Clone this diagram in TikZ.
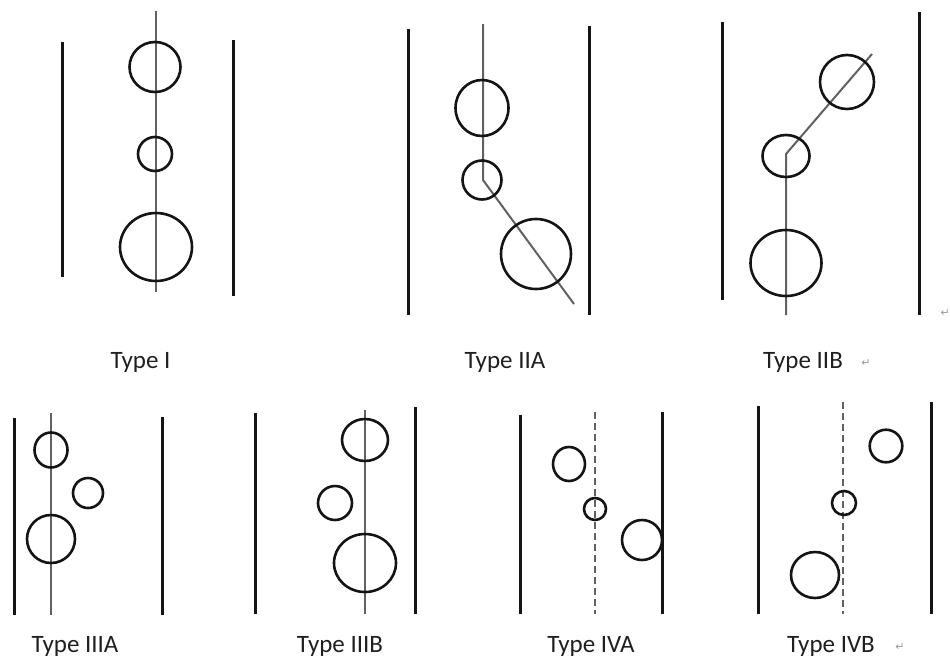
\documentclass[tikz,border=0pt]{standalone}
\usepackage{fontspec}
\setmainfont{Carlito}
\newfontfamily\symfont{DejaVu Sans}
\begin{document}
\begin{tikzpicture}[x=1pt,y=-1pt,
  wall/.style={line width=3pt, black!92},
  axisline/.style={line width=2pt, black!62},
  daxis/.style={line width=2pt, black!62, dash pattern=on 7pt off 4pt},
  pore/.style={line width=2.6pt, black!92},
  lbl/.style={anchor=base, font=\fontsize{25}{30}\selectfont, text=black!88, inner sep=0pt},
  ret/.style={anchor=base, font=\symfont\fontsize{11}{13}\selectfont, text=black!40, inner sep=0pt}]
\useasboundingbox (0,0) rectangle (950,662);

% ---------- Type I ----------
\draw[wall] (62.7,42) -- (62.7,277);
\draw[wall] (233,40) -- (233,296);
\draw[axisline] (155.7,11) -- (155.7,292);
\draw[pore] (155,67) ellipse [x radius=25.5, y radius=25];
\draw[pore] (155,154) circle [radius=17];
\draw[pore] (156,247) ellipse [x radius=36, y radius=34];
\node[lbl] (t1) at (140.5,368) {Type I};

% ---------- Type IIA ----------
\draw[wall] (408,29) -- (408,315);
\draw[wall] (589,26) -- (589,315);
\draw[axisline] (483,24) -- (483,180) -- (574,304);
\draw[pore] (482,108) ellipse [x radius=26.5, y radius=28];
\draw[pore] (482,180) circle [radius=19.5];
\draw[pore] (536,254) circle [radius=35];
\node[lbl] (t2a) at (505,368) {Type IIA};

% ---------- Type IIB ----------
\draw[wall] (722,22) -- (722,300);
\draw[wall] (919,12) -- (919,315);
\draw[axisline] (786,315) -- (786,154) -- (872,54);
\draw[pore] (847,82) circle [radius=27];
\draw[pore] (786,156) ellipse [x radius=23.5, y radius=21];
\draw[pore] (786,263) ellipse [x radius=35.5, y radius=33];
\node[lbl] (t2b) at (803,368) {Type IIB};
\node[ret] (r1) at (866,366) {↵};
\node[ret, anchor=base east] (r2) at (950,316) {↵};

% ---------- Type IIIA ----------
\draw[wall] (14.7,418) -- (14.7,615);
\draw[wall] (162,417) -- (162,615);
\draw[axisline] (51,413) -- (51,615);
\draw[pore] (51,450) ellipse [x radius=16.5, y radius=17.5];
\draw[pore] (88,493) circle [radius=15];
\draw[pore] (51,539) circle [radius=24];
\node[lbl] (t3a) at (75,652) {Type IIIA};

% ---------- Type IIIB ----------
\draw[wall] (255,413) -- (255,614);
\draw[wall] (415,407) -- (415,614);
\draw[axisline] (365,410) -- (365,614);
\draw[pore] (365,440) ellipse [x radius=23, y radius=21];
\draw[pore] (335,503) circle [radius=17];
\draw[pore] (365,563) ellipse [x radius=31, y radius=29];
\node[lbl] (t3b) at (340,652) {Type IIIB};

% ---------- Type IVA ----------
\draw[wall] (520,415) -- (520,614);
\draw[wall] (662,412) -- (662,614);
\draw[daxis] (595,412) -- (595,614);
\draw[pore] (569,464) ellipse [x radius=16, y radius=17];
\draw[pore] (595,509) circle [radius=11];
\draw[pore] (642,540) circle [radius=20];
\node[lbl] (t4a) at (591,652) {Type IVA};

% ---------- Type IVB ----------
\draw[wall] (758,406) -- (758,614);
\draw[wall] (931,402) -- (931,614);
\draw[daxis] (843,402) -- (843,614);
\draw[pore] (886,446) circle [radius=16.3];
\draw[pore] (844,503) circle [radius=12];
\draw[pore] (815,575) ellipse [x radius=24, y radius=23];
\node[lbl] (t4b) at (831,652) {Type IVB};
\node[ret] (r3) at (900,650) {↵};
\end{tikzpicture}
\end{document}
